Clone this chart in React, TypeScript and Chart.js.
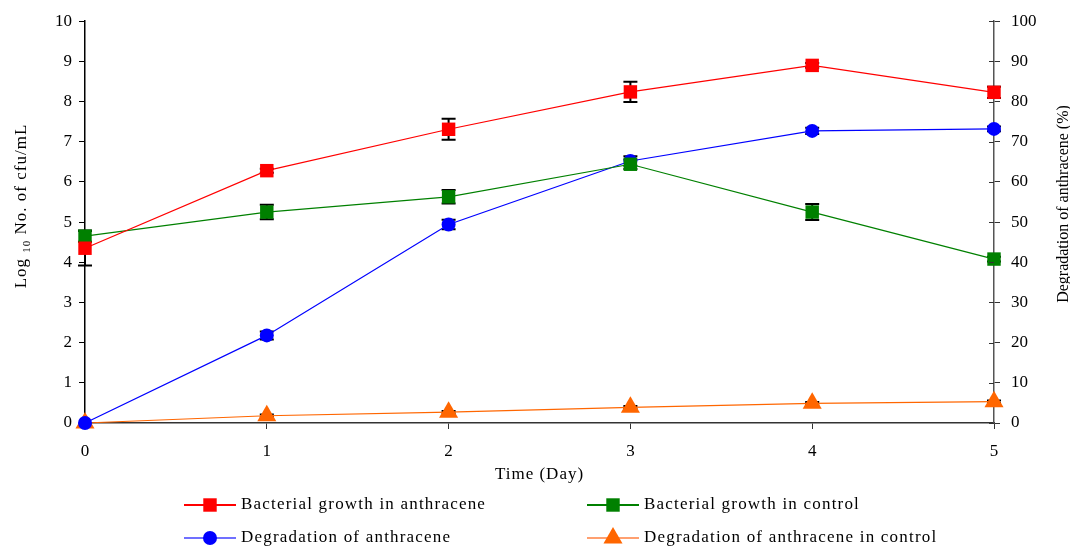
import React, { useEffect, useRef } from "react";
import { Chart, registerables } from "chart.js";

Chart.register(...registerables);

const days = [0, 1, 2, 3, 4, 5];
const growthAnthracene = [4.35, 6.28, 7.31, 8.24, 8.9, 8.23];
const growthAnthraceneErr = [0.43, 0.05, 0.26, 0.25, 0.06, 0.14];
const growthControl = [4.65, 5.25, 5.63, 6.44, 5.25, 4.08];
const growthControlErr = [0.14, 0.18, 0.17, 0.12, 0.2, 0.06];
const degradation = [0, 21.8, 49.4, 65.2, 72.7, 73.2];
const degradationErr = [0, 1.0, 1.2, 1.2, 0.8, 0.6];
const degradationControl = [0, 1.8, 2.7, 3.9, 4.9, 5.3];
const degradationControlErr = [0, 0.3, 0.3, 0.3, 0.3, 0.3];

const seriesNames = [
  "Bacterial growth in anthracene",
  "Bacterial growth in control",
  "Degradation of anthracene",
  "Degradation of anthracene in control",
];
const xTitle = "Time (Day)";
const rightTitle = "Degradation of anthracene (%)";

const FONT = "'Liberation Serif', 'Times New Roman', serif";

type Series = {
  label: string;
  values: number[];
  errors: number[];
  color: string;
  legendColor: string;
  style: "rect" | "circle" | "triangle";
  radius: number;
  axis: string;
};

const seriesList: Series[] = [
  { label: seriesNames[0], values: growthAnthracene, errors: growthAnthraceneErr, color: "#ff0000", legendColor: "#ff0000", style: "rect", radius: 9.5, axis: "y" },
  { label: seriesNames[1], values: growthControl, errors: growthControlErr, color: "#008000", legendColor: "#008000", style: "rect", radius: 9.5, axis: "y" },
  { label: seriesNames[2], values: degradation, errors: degradationErr, color: "#0000ff", legendColor: "#7070ff", style: "circle", radius: 7, axis: "y2" },
  { label: seriesNames[3], values: degradationControl, errors: degradationControlErr, color: "#ff6600", legendColor: "#ffa070", style: "triangle", radius: 11, axis: "y2" },
];

function drawMarker(ctx: CanvasRenderingContext2D, style: string, x: number, y: number, r: number, color: string) {
  ctx.save();
  ctx.fillStyle = color;
  ctx.beginPath();
  if (style === "rect") {
    const s = Math.SQRT1_2 * r;
    ctx.rect(x - s, y - s, 2 * s, 2 * s);
  } else if (style === "circle") {
    ctx.arc(x, y, r, 0, Math.PI * 2);
  } else {
    let rad = 0;
    ctx.moveTo(x + Math.sin(rad) * r, y - Math.cos(rad) * r);
    rad += (2 * Math.PI) / 3;
    ctx.lineTo(x + Math.sin(rad) * r, y - Math.cos(rad) * r);
    rad += (2 * Math.PI) / 3;
    ctx.lineTo(x + Math.sin(rad) * r, y - Math.cos(rad) * r);
    ctx.closePath();
  }
  ctx.fill();
  ctx.restore();
}

const errorBarPlugin = {
  id: "errorBars",
  beforeDatasetsDraw(chart: any) {
    const ctx = chart.ctx as CanvasRenderingContext2D;
    const xs = chart.scales.x;
    ctx.save();
    ctx.strokeStyle = "#000";
    ctx.lineWidth = 2;
    seriesList.forEach((s) => {
      const ys = chart.scales[s.axis];
      s.values.forEach((v, i) => {
        const e = s.errors[i];
        if (!e) return;
        const px = xs.getPixelForValue(days[i]);
        const top = ys.getPixelForValue(v + e);
        const bot = ys.getPixelForValue(v - e);
        ctx.beginPath();
        ctx.moveTo(px, top);
        ctx.lineTo(px, bot);
        ctx.moveTo(px - 7, top);
        ctx.lineTo(px + 7, top);
        ctx.moveTo(px - 7, bot);
        ctx.lineTo(px + 7, bot);
        ctx.stroke();
      });
    });
    ctx.restore();
  },
};

const decorPlugin = {
  id: "decor",
  afterDraw(chart: any) {
    const ctx = chart.ctx as CanvasRenderingContext2D;
    const area = chart.chartArea;
    const y2 = chart.scales.y2;
    ctx.save();
    // inner ticks on right axis
    ctx.strokeStyle = "#333";
    ctx.lineWidth = 1;
    y2.ticks.forEach((t: any) => {
      const py = Math.round(y2.getPixelForValue(t.value)) + 0.5;
      ctx.beginPath();
      ctx.moveTo(area.right - 5, py);
      ctx.lineTo(area.right, py);
      ctx.stroke();
    });

    ctx.fillStyle = "#000";
    ctx.textBaseline = "middle";
    // x title
    ctx.font = `17px ${FONT}`;
    (ctx as any).letterSpacing = "1px";
    ctx.textAlign = "center";
    ctx.fillText(xTitle, (area.left + area.right) / 2, 475);

    // left title with subscript
    ctx.save();
    ctx.translate(22, 206);
    ctx.rotate(-Math.PI / 2);
    (ctx as any).letterSpacing = "1px";
    const p1 = "Log ";
    const p2 = "10";
    const p3 = " No. of cfu/mL";
    ctx.font = `17px ${FONT}`;
    const w1 = ctx.measureText(p1).width;
    const w3 = ctx.measureText(p3).width;
    ctx.font = `11px ${FONT}`;
    const w2 = ctx.measureText(p2).width;
    const total = w1 + w2 + w3;
    let cx = -total / 2;
    ctx.textAlign = "left";
    ctx.font = `17px ${FONT}`;
    ctx.fillText(p1, cx, 0);
    cx += w1;
    ctx.font = `11px ${FONT}`;
    ctx.fillText(p2, cx, 5);
    cx += w2;
    ctx.font = `17px ${FONT}`;
    ctx.fillText(p3, cx, 0);
    ctx.restore();

    // right title
    ctx.save();
    ctx.translate(1064, 204);
    ctx.rotate(-Math.PI / 2);
    (ctx as any).letterSpacing = "0px";
    ctx.font = `16px ${FONT}`;
    ctx.textAlign = "center";
    ctx.fillText(rightTitle, 0, 0);
    ctx.restore();

    // legend
    const cols = [184, 587];
    const rows = [505, 538];
    seriesList.forEach((s, i) => {
      const lx = cols[i % 2];
      const ly = rows[Math.floor(i / 2)];
      ctx.strokeStyle = s.legendColor;
      ctx.lineWidth = 2;
      ctx.beginPath();
      ctx.moveTo(lx, ly);
      ctx.lineTo(lx + 52, ly);
      ctx.stroke();
      drawMarker(ctx, s.style, lx + 26, ly, s.radius, s.color);
      ctx.fillStyle = "#000";
      ctx.font = `17px ${FONT}`;
      (ctx as any).letterSpacing = "1.2px";
      ctx.textAlign = "left";
      ctx.fillText(s.label, lx + 57, ly);
    });
    ctx.restore();
  },
};

export default function App() {
  const ref = useRef<HTMLCanvasElement | null>(null);
  useEffect(() => {
    if (!ref.current) return;
    const chart = new Chart(ref.current, {
      type: "line",
      data: {
        datasets: seriesList.map((s) => ({
          label: s.label,
          data: s.values.map((v, i) => ({ x: days[i], y: v })),
          borderColor: s.color,
          backgroundColor: s.color,
          borderWidth: 1.2,
          pointStyle: s.style,
          pointRadius: s.radius,
          pointHoverRadius: s.radius,
          pointBorderWidth: 0,
          pointBackgroundColor: s.color,
          yAxisID: s.axis,
          tension: 0,
          clip: false,
        })),
      },
      options: {
        animation: false,
        responsive: false,
        maintainAspectRatio: false,
        layout: { padding: { top: 15, left: 0, right: 0, bottom: 0 } },
        plugins: { legend: { display: false }, tooltip: { enabled: false } },
        scales: {
          x: {
            type: "linear",
            min: 0,
            max: 5,
            ticks: { stepSize: 1, color: "#000", font: { family: FONT, size: 17 }, padding: 12 },
            grid: { drawOnChartArea: false, tickLength: 6, color: "#333" },
            border: { color: "#333", width: 1.5 },
            afterFit: (scale: any) => {
              scale.height = 124;
            },
          },
          y: {
            position: "left",
            min: 0,
            max: 10,
            ticks: { stepSize: 1, color: "#000", font: { family: FONT, size: 17 }, padding: 7 },
            grid: { drawOnChartArea: false, tickLength: 6, color: "#000" },
            border: { color: "#000", width: 1.5 },
            afterFit: (scale: any) => {
              scale.width = 85;
            },
          },
          y2: {
            position: "right",
            min: 0,
            max: 100,
            ticks: { stepSize: 10, color: "#000", font: { family: FONT, size: 17 }, padding: 11 },
            grid: { drawOnChartArea: false, tickLength: 6, color: "#333" },
            border: { color: "#555", width: 1.5 },
            afterFit: (scale: any) => {
              scale.width = 76;
            },
          },
        },
      },
      plugins: [errorBarPlugin, decorPlugin],
    });
    return () => chart.destroy();
  }, []);
  return (
    <div style={{ position: "fixed", left: 0, top: 0, width: 1070, height: 547, background: "#fff" }}>
      <canvas ref={ref} width={1070} height={547} style={{ width: 1070, height: 547 }} />
    </div>
  );
}
